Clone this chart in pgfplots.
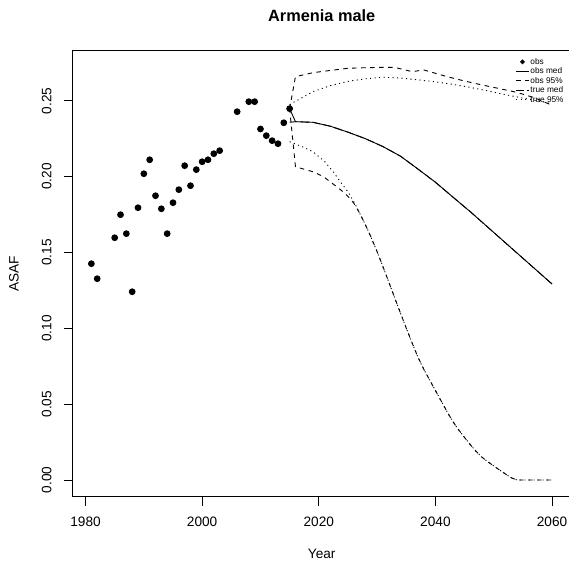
\documentclass[border=0pt]{standalone}
\usepackage{fontspec}
\setmainfont{Liberation Sans}
\usepackage{pgfplots}
\pgfplotsset{compat=1.18}

% observed series
\pgfplotstableread{
year asaf
1981 0.1426
1982 0.1327
1985 0.1597
1986 0.1749
1987 0.1624
1988 0.1241
1989 0.1795
1990 0.2019
1991 0.2111
1992 0.1874
1993 0.1788
1994 0.1624
1995 0.1828
1996 0.1914
1997 0.2072
1998 0.1940
1999 0.2046
2000 0.2098
2001 0.2111
2002 0.2151
2003 0.2171
2006 0.2428
2008 0.2494
2009 0.2494
2010 0.2314
2011 0.2270
2012 0.2237
2013 0.2217
2014 0.2355
2015 0.2448
}\obs

\begin{document}
\begin{tikzpicture}
\useasboundingbox (-72.7bp,-72.3bp) rectangle (496.3bp,496.7bp);
\begin{axis}[
  at={(0,0)}, anchor=south west,
  scale only axis, width=498bp, height=446bp,
  xmin=1977.8, xmax=2063.2, ymin=-0.011, ymax=0.283,
  clip=false,
  axis lines=box,
  axis line style={black, line width=0.8bp},
  xtick={1980,2000,2020,2040,2060},
  ytick={0,0.05,0.1,0.15,0.2,0.25},
  xtick pos=bottom, ytick pos=left,
  tick align=outside, major tick length=9bp,
  tick style={black, line width=0.8bp},
  /pgf/number format/assume math mode=true,
  x tick label style={/pgf/number format/set thousands separator={}, anchor=center, yshift=-16bp},
  y tick label style={/pgf/number format/.cd, fixed, fixed zerofill, precision=2, /tikz/.cd, xshift=-17bp, rotate=90, anchor=center},
  ticklabel style={font=\fontsize{13.7}{16}\selectfont},
  title={Armenia male},
  title style={at={(axis description cs:0.5,1)}, anchor=center, yshift=29bp, font=\bfseries\fontsize{16.4}{19}\selectfont},
  xlabel={Year}, ylabel={ASAF},
  every axis x label/.style={at={(axis description cs:0.5,0)}, anchor=center, yshift=-57bp, font=\fontsize{13.7}{16}\selectfont},
  every axis y label/.style={at={(axis description cs:0,0.5)}, anchor=center, xshift=-58.7bp, rotate=90, font=\fontsize{13.7}{16}\selectfont},
  legend image code/.code={\draw[#1] (0bp,0bp) -- (13bp,0bp);},
  legend style={at={(axis cs:2053.2,0.2802)}, anchor=north west, draw=none, fill=none,
    font=\fontsize{8.3}{9.5}\selectfont, cells={anchor=west},
    nodes={text height=6bp, text depth=1.5bp, inner sep=1bp}},
  every axis plot/.append style={line width=0.9bp, black},
]
\draw[line width=0.8bp] (rel axis cs:0,0) rectangle (rel axis cs:1,1);

\addplot[only marks, mark=*, mark size=2.9bp,
  legend image code/.code={\fill (6.5bp,0bp) circle (1.8bp);}] table[x=year, y=asaf] {\obs};
\addlegendentry{obs}

% obs med
\addplot[solid] coordinates {
(2015,0.2448) (2016,0.2362) (2019,0.2358) (2022,0.2332) (2025,0.2293) (2028,0.2250)
(2031,0.2198) (2034,0.2135) (2037,0.2050) (2040,0.1963) (2043,0.1865) (2046,0.1768)
(2049,0.1666) (2052,0.1564) (2055,0.1462) (2058,0.1360) (2060,0.1292)
};
\addlegendentry{obs med}

% obs 95%
\addplot[dash pattern=on 4.5bp off 4.5bp] coordinates {
(2015,0.2448) (2016,0.2659) (2019,0.2685) (2022,0.2700) (2025,0.2714) (2028,0.2718)
(2031,0.2720) (2033,0.2720) (2036,0.2692) (2038,0.2703) (2042,0.2659) (2045,0.2630)
(2048,0.2604) (2051,0.2580) (2054,0.2555) (2057,0.2520) (2060,0.2470)
};
\addlegendentry{obs 95\%}

% true med
\addplot[dash pattern=on 8bp off 3.4bp] coordinates {
(2015,0.2358) (2016,0.2362) (2019,0.2358) (2022,0.2332) (2025,0.2293) (2028,0.2250)
(2031,0.2198) (2034,0.2135) (2037,0.2050) (2040,0.1963) (2043,0.1865) (2046,0.1768)
(2049,0.1666) (2052,0.1564) (2055,0.1462) (2058,0.1360) (2060,0.1292)
};
\addlegendentry{true med}

% true 95%
\addplot[dash pattern=on 1.1bp off 3.4bp] coordinates {
(2015,0.2475) (2019,0.2560) (2022,0.2600) (2025,0.2628) (2028,0.2645) (2031,0.2655)
(2034,0.2650) (2037,0.2638) (2040,0.2625) (2043,0.2608) (2046,0.2588) (2049,0.2565)
(2052,0.2540) (2055,0.2518) (2058,0.2495) (2060,0.2480)
};
\addlegendentry{true 95\%}

% lower bounds (not in legend)
\addplot[dash pattern=on 4.5bp off 4.5bp, forget plot] coordinates {
(2015,0.2448) (2016,0.2065) (2019,0.2032) (2020.8,0.2000) (2022.5,0.1950) (2024,0.1905)
(2025,0.1870) (2026,0.1825) (2027,0.1760) (2028,0.1682) (2029,0.1597) (2030,0.1505)
(2031,0.1407) (2032,0.1305) (2033,0.1203) (2034,0.1101) (2035,0.1001) (2036,0.0904)
(2037,0.0810) (2038,0.0730) (2039,0.0660) (2040,0.0590) (2041,0.0520) (2042,0.0450)
(2043,0.0385) (2044,0.0330) (2045,0.0280) (2046,0.0232) (2047,0.0188) (2048,0.0150)
(2049,0.0120) (2050,0.0093) (2051,0.0066) (2052,0.0040) (2053,0.0015) (2054,0) (2060,0)
};
\addplot[dash pattern=on 1.1bp off 3.4bp, forget plot] coordinates {
(2015,0.2230) (2017,0.2200) (2019,0.2164) (2021,0.2100) (2022.5,0.2030) (2024,0.1950)
(2025,0.1900) (2026,0.1835) (2027,0.1760) (2028,0.1682) (2029,0.1597) (2030,0.1505)
(2031,0.1407) (2032,0.1305) (2033,0.1203) (2034,0.1101) (2035,0.1001) (2036,0.0904)
(2037,0.0810) (2038,0.0730) (2039,0.0660) (2040,0.0590) (2041,0.0520) (2042,0.0450)
(2043,0.0385) (2044,0.0330) (2045,0.0280) (2046,0.0232) (2047,0.0188) (2048,0.0150)
(2049,0.0120) (2050,0.0093) (2051,0.0066) (2052,0.0040) (2053,0.0015) (2054,0) (2060,0)
};
\end{axis}
\end{tikzpicture}
\end{document}
